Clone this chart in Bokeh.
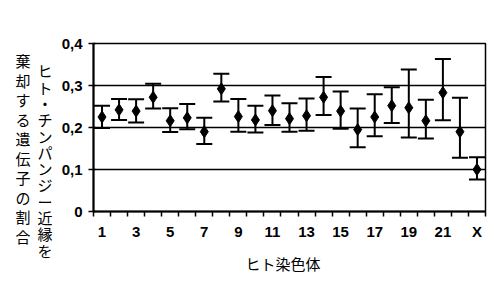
from bokeh.plotting import figure
from bokeh.models import (ColumnDataSource, Range1d, FixedTicker, Whisker, TeeHead,
                          LinearAxis, Title)
from bokeh.embed import file_html
from bokeh.resources import INLINE

# ---- data ----
chromosomes = ["1", "2", "3", "4", "5", "6", "7", "8", "9", "10", "11", "12",
               "13", "14", "15", "16", "17", "18", "19", "20", "21", "22", "X"]
fraction = [0.225, 0.242, 0.239, 0.272, 0.216, 0.223, 0.190, 0.292, 0.226, 0.218, 0.240, 0.221,
            0.228, 0.272, 0.239, 0.195, 0.225, 0.252, 0.247, 0.216, 0.283, 0.190, 0.100]
upper = [0.252, 0.268, 0.267, 0.304, 0.246, 0.256, 0.223, 0.328, 0.268, 0.252, 0.276, 0.258,
         0.269, 0.320, 0.286, 0.245, 0.279, 0.296, 0.338, 0.266, 0.363, 0.271, 0.129]
lower = [0.199, 0.218, 0.212, 0.245, 0.189, 0.196, 0.161, 0.262, 0.190, 0.188, 0.206, 0.190,
         0.192, 0.230, 0.197, 0.153, 0.179, 0.211, 0.176, 0.174, 0.217, 0.128, 0.076]
x_tick_labels = ["1", "3", "5", "7", "9", "11", "13", "15", "17", "19", "21", "X"]
y_ticks = [0, 0.1, 0.2, 0.3, 0.4]
y_tick_labels = ["0", "0,1", "0,2", "0,3", "0,4"]
x_axis_title = "ヒト染色体"
y_axis_title_col1 = "ヒト・チンパンジー近縁を"
y_axis_title_col2 = "棄却する遺伝子の割合"

pos = list(range(1, len(chromosomes) + 1))
src = ColumnDataSource(dict(x=pos, y=fraction, upper=upper, lower=lower))

W, H = 500, 303
FRAME_LEFT, FRAME_TOP, FRAME_BOTTOM = 93, 43, 211
Y0, Y1 = 0, 0.4

p = figure(width=W, height=H, output_backend="svg", toolbar_location=None,
           x_range=Range1d(0.5, len(chromosomes) + 0.5), y_range=Range1d(Y0, Y1),
           min_border_left=FRAME_LEFT, min_border_right=15, min_border_top=FRAME_TOP,
           min_border_bottom=H - FRAME_BOTTOM)
p.background_fill_color = "white"
p.border_fill_color = "white"
p.outline_line_color = "black"
p.outline_line_width = 1.5

# x axis: labels at odd chromosomes, ticks at category boundaries
label_pos = [pos[chromosomes.index(t)] for t in x_tick_labels]
p.xaxis.ticker = FixedTicker(ticks=label_pos,
                             minor_ticks=[i + 0.5 for i in range(0, len(chromosomes) + 1)])
p.xaxis.major_label_overrides = {lp: t for lp, t in zip(label_pos, x_tick_labels)}
p.xaxis.major_tick_line_color = None
p.xaxis.major_tick_out = 5
p.xaxis.minor_tick_out = 5
p.xaxis.minor_tick_in = 0
p.xaxis.minor_tick_line_color = "black"
p.xaxis.minor_tick_line_width = 1.5
p.xaxis.major_label_standoff = 6

p.yaxis.ticker = FixedTicker(ticks=y_ticks)
p.yaxis.major_label_overrides = {t: l for t, l in zip(y_ticks, y_tick_labels)}
p.yaxis.major_tick_out = 5
p.yaxis.major_tick_in = 2
p.yaxis.minor_tick_line_color = None
p.yaxis.major_label_standoff = 6

for ax in (p.xaxis, p.yaxis):
    ax.axis_line_color = "black"
    ax.axis_line_width = 2
    ax.major_tick_line_width = 1.5
    ax.major_label_text_font = "Liberation Sans"
    ax.major_label_text_font_style = "bold"
    ax.major_label_text_font_size = "15px"
    ax.major_label_text_color = "black"

# x axis title, shifted left of the frame centre as in the reference
p.add_layout(Title(text=x_axis_title, align="left", offset=152, standoff=17,
                   text_font="Noto Sans CJK JP", text_font_style="normal",
                   text_font_size="15px", text_color="black"), "below")

p.xgrid.grid_line_color = None
p.ygrid.ticker = FixedTicker(ticks=y_ticks)
p.ygrid.grid_line_color = "black"
p.ygrid.grid_line_width = 1.5
p.ygrid.grid_line_alpha = 1.0

w = Whisker(base="x", upper="upper", lower="lower", source=src,
            line_color="black", line_width=2,
            upper_head=TeeHead(size=16, line_color="black", line_width=2),
            lower_head=TeeHead(size=16, line_color="black", line_width=2))
p.add_layout(w)
p.scatter("x", "y", source=src, marker="diamond", size=12,
          fill_color="black", line_color="black")

# ---- upright vertical y title: two columns drawn as multi-line tick labels of
#      two extra label-only axes on the left (not clipped to the frame) ----
def canvas_to_y(cy):
    return Y0 + (FRAME_BOTTOM - cy) / (FRAME_BOTTOM - FRAME_TOP) * (Y1 - Y0)

def title_axis(text, centre_cy, standoff, line_height):
    yv = canvas_to_y(centre_cy)
    ax = LinearAxis(ticker=FixedTicker(ticks=[yv]),
                    major_label_overrides={yv: "\n".join(text)},
                    axis_line_color=None, major_tick_line_color=None,
                    minor_tick_line_color=None, major_tick_in=0, major_tick_out=0,
                    major_label_standoff=standoff,
                    major_label_text_font="Noto Sans CJK JP",
                    major_label_text_font_size="15px",
                    major_label_text_font_style="normal",
                    major_label_text_color="black",
                    major_label_text_line_height=line_height)
    return ax

p.add_layout(title_axis(y_axis_title_col1, 160, 6, 0.775), "left")
p.add_layout(title_axis(y_axis_title_col2, 148, 4, 0.93), "left")

open("out.html", "w").write(file_html(p, INLINE))
